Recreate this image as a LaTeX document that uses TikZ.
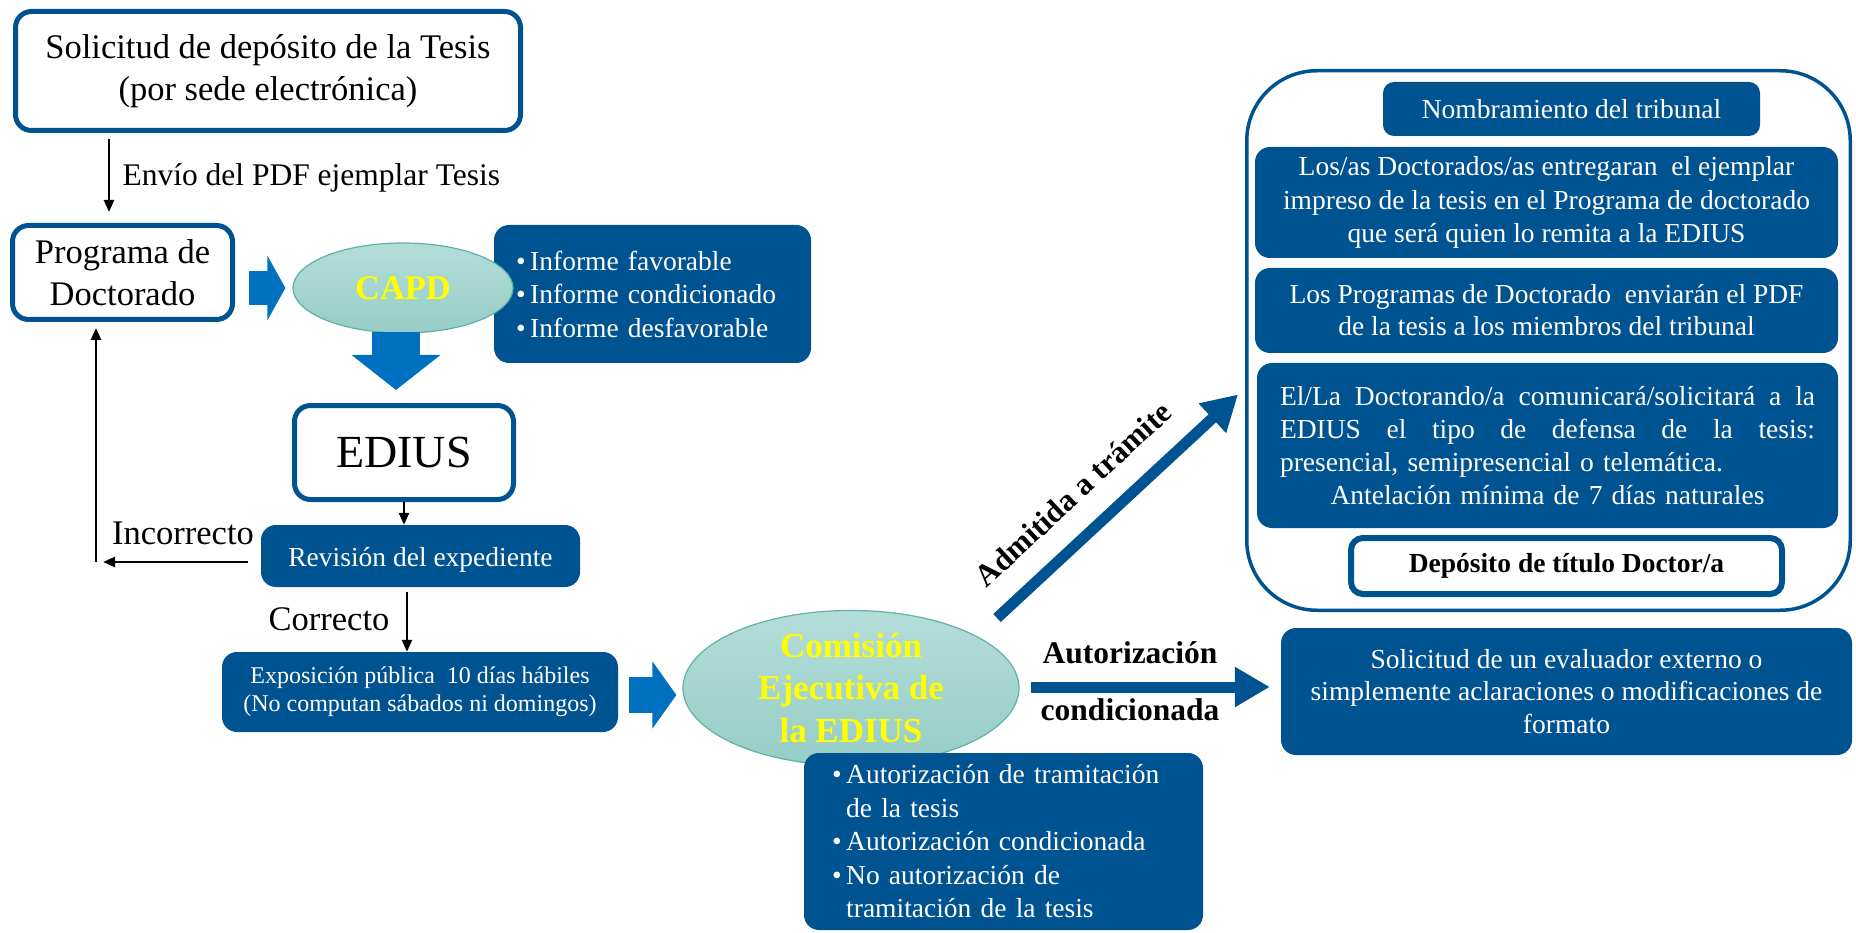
\documentclass[tikz,border=0pt]{standalone}
\usepackage{fontspec}
\setmainfont{Liberation Serif}
\usetikzlibrary{shapes.geometric,arrows.meta,calc}
\definecolor{dblue}{RGB}{0,83,145}
\definecolor{bblue}{RGB}{0,112,192}
\definecolor{tealtop}{RGB}{180,221,217}
\definecolor{tealbot}{RGB}{150,205,198}
\definecolor{tealline}{RGB}{95,178,168}
\definecolor{yel}{RGB}{255,255,0}
\newcommand{\myfs}[2]{\fontsize{#1pt}{#2pt}\selectfont}
\newcommand{\jline}[1]{\leavevmode\hbox to 535pt{#1}}
\begin{document}
\begin{tikzpicture}[x=1pt,y=-1pt,
  wbox/.style={draw=dblue, line width=5pt, fill=white, text=black, rounded corners=16pt, align=center, inner sep=0pt},
  bbox/.style={fill=dblue, text=white, rounded corners=15pt, align=center, inner sep=0pt, font=\myfs{27.5}{33.5}},
  oval/.style={ellipse, draw=tealline, line width=1.2pt, top color=tealtop, bottom color=tealbot, inner sep=0pt, text=yel, align=center},
  tarrow/.style={line width=2.5pt, -{Triangle[width=10pt,length=12pt]}},
  darrow/.style={dblue, line width=11pt, -{Triangle[width=38pt,length=35pt]}},
  lbl/.style={anchor=base, text=black, inner sep=0pt}
]
\useasboundingbox (0,0) rectangle (1856,933);

% left column
\node[wbox, minimum width=505pt, minimum height=119pt, font=\myfs{34.5}{42}] (box1) at (268,71)
  {Solicitud de depósito de la Tesis\\(por sede electrónica)};
\node[wbox, minimum width=220pt, minimum height=94pt, font=\myfs{34.5}{42}] (prog) at (122.5,272.5)
  {Programa de\\Doctorado};
\node[bbox, minimum width=317pt, minimum height=138pt, text width=273pt, align=left, inner xsep=22pt] (capdinfo) at (652.5,294)
  {\textbullet\,Informe favorable\\\textbullet\,Informe condicionado\\\textbullet\,Informe desfavorable};
\node[oval, minimum width=220pt, minimum height=90pt, font=\bfseries\myfs{34.5}{40}] (capd) at (403,288) {CAPD};
\node[wbox, minimum width=219pt, minimum height=94pt, font=\myfs{46}{50}] (edius) at (404,452.5) {EDIUS};
\node[bbox, minimum width=319pt, minimum height=62pt, text height=27pt, text depth=6pt] (rev) at (420.5,556) {Revisión del expediente};
\node[bbox, minimum width=396pt, minimum height=80pt, font=\myfs{24}{28}] (expo) at (420,692)
  {Exposición pública\ \ 10 días hábiles\\(No computan sábados ni domingos)};

% commission
\node[oval, minimum width=336pt, minimum height=149pt, font=\bfseries\myfs{35}{42.5}] (com) at (851,688)
  {Comisión\\Ejecutiva de\\la EDIUS};
\node[bbox, minimum width=399pt, minimum height=177pt, text width=343pt, align=left, inner xsep=28pt] (cominfo) at (1003.5,841.5)
  {\textbullet\,Autorización de tramitación\\\hphantom{\textbullet\,}de la tesis\\\textbullet\,Autorización condicionada\\\textbullet\,No autorización de\\\hphantom{\textbullet\,}tramitación de la tesis};

% right panel
\node[draw=dblue, line width=3.5pt, rounded corners=70pt, minimum width=603.5pt, minimum height=539.5pt, inner sep=0pt] (panel) at (1548.5,340.5) {};
\node[bbox, rounded corners=11pt, minimum width=377pt, minimum height=54pt] (nomb) at (1571.5,109) {Nombramiento del tribunal};
\node[bbox, minimum width=583pt, minimum height=111pt] (losas) at (1546.5,202.5)
  {Los/as Doctorados/as entregaran\ \ el ejemplar\\impreso de la tesis en el Programa de doctorado\\que será quien lo remita a la EDIUS};
\node[bbox, minimum width=583pt, minimum height=85pt, font=\myfs{27.5}{32}] (progs) at (1546.5,310.5)
  {Los Programas de Doctorado\ \ enviarán el PDF\\de la tesis a los miembros del tribunal};
\node[bbox, minimum width=581pt, minimum height=165pt, text width=535pt, align=left, inner xsep=23pt, font=\myfs{27.5}{33}] (ella) at (1547.5,445.5)
  {\jline{El/La\hfill Doctorando/a\hfill comunicará/solicitará\hfill a\hfill la}\\
   \jline{EDIUS\hfill el\hfill tipo\hfill de\hfill defensa\hfill de\hfill la\hfill tesis:}\\
   presencial, semipresencial o telemática.\\
   \jline{\hfill Antelación mínima de 7 días naturales\hfill}};
\node[wbox, line width=6pt, rounded corners=12pt, minimum width=431pt, minimum height=56pt, font=\bfseries\myfs{27.5}{32}] (depo) at (1566.5,566)
  {Depósito de título Doctor/a};
\node[bbox, minimum width=571pt, minimum height=127pt, font=\myfs{27.5}{32.5}] (sol) at (1566.5,691.5)
  {Solicitud de un evaluador externo o\\simplemente aclaraciones o modificaciones de\\formato};

% connectors
\coordinate (ax) at (109,0);
\draw[tarrow, shorten <=6pt, shorten >=11pt] (box1.south -| ax) -- (prog.north -| ax)
  node[midway, anchor=west, xshift=9pt, font=\myfs{31.5}{36}] (lblenvio) {Envío del PDF ejemplar Tesis};

\draw[bblue, line width=34pt, -{Triangle[width=64pt,length=18pt]}]
  ($(capd.west -| prog.east)+(14,0)$) -- ($(capd.west)+(-7,0)$);
\draw[bblue, line width=48pt, -{Triangle[width=87pt,length=35pt]}]
  ($(capd.south)+(-7,-2)$) -- ($(edius.north)+(-8,-13)$);

\draw[tarrow] (edius.south) -- (edius.south |- rev.north);

\coordinate (ret) at (96,562);
\draw[tarrow] ($(rev.west)+(-13,6)$) -- ($(ret)+(7,0)$);
\draw[tarrow, shorten >=6pt] (ret) -- (ret |- prog.south);
\node[lbl, font=\myfs{34.5}{40}] (lblinc) at (183,544) {Incorrecto};

\draw[tarrow] ($(rev.south)+(-13.5,5)$) -- ($(rev.south |- expo.north)+(-13.5,0)$);
\node[lbl, font=\myfs{34.5}{40}] (lblcor) at (329,630) {Correcto};

\draw[bblue, line width=36pt, -{Triangle[width=66pt,length=24pt]}]
  ($(expo.east |- com.west)+(11,7)$) -- ($(com.west)+(-6,7)$);

\draw[darrow] ($(com.center)+(146,-70)$) -- ($(panel.west)+(-7,54)$);
\node[rotate=42.8, font=\bfseries\myfs{31}{36}] (lbladm) at (1073,494) {Admitida a trámite};

\draw[darrow] ($(com.east)+(11,-1)$) -- ($(com.east -| sol.west)+(-11,-1)$);
\node[lbl, font=\bfseries\myfs{31.5}{36}] (lblaut) at (1130,663) {Autorización};
\node[lbl, font=\bfseries\myfs{31.5}{36}] (lblcond) at (1130,720) {condicionada};
\end{tikzpicture}
\end{document}
